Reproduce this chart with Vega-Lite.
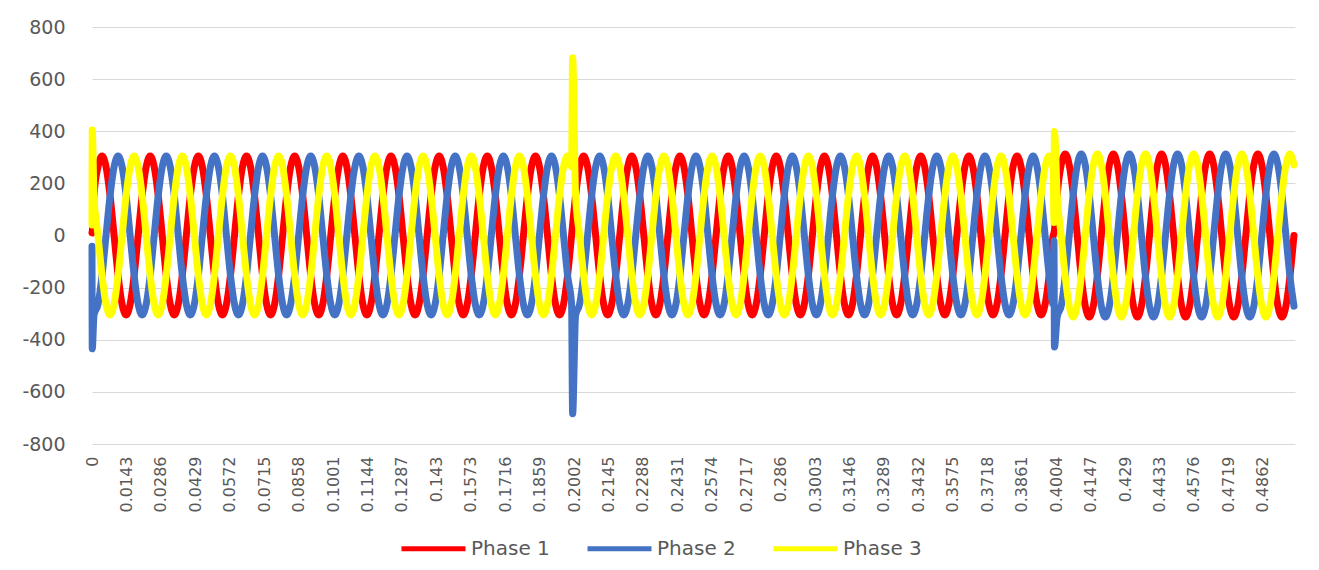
{
"$schema":"https://vega.github.io/schema/vega-lite/v6.json",
"autosize":{"type":"none"},
"width":1203,"height":417,
"padding":{"left":92,"top":27,"right":24,"bottom":126},
"background":"white",
"data":{"values":[
{"t":0,"p1":10,"p2":-41,"p3":40},
{"t":0.0001,"p1":15,"p2":-435,"p3":405},
{"t":0.00083,"p1":153,"p2":-305,"p3":153},{"t":0.0025,"p1":264,"p2":-264,"p3":0},{"t":0.00417,"p1":305,"p2":-153,"p3":-153},{"t":0.00583,"p1":264,"p2":0,"p3":-264},{"t":0.0075,"p1":153,"p2":153,"p3":-305},{"t":0.00917,"p1":0,"p2":264,"p3":-264},
{"t":0.01083,"p1":-153,"p2":305,"p3":-153},{"t":0.0125,"p1":-264,"p2":264,"p3":0},{"t":0.01417,"p1":-305,"p2":153,"p3":153},{"t":0.01583,"p1":-264,"p2":0,"p3":264},{"t":0.0175,"p1":-153,"p2":-153,"p3":305},{"t":0.01917,"p1":0,"p2":-264,"p3":264},
{"t":0.02083,"p1":153,"p2":-305,"p3":153},{"t":0.0225,"p1":264,"p2":-264,"p3":0},{"t":0.02417,"p1":305,"p2":-153,"p3":-153},{"t":0.02583,"p1":264,"p2":0,"p3":-264},{"t":0.0275,"p1":153,"p2":153,"p3":-305},{"t":0.02917,"p1":0,"p2":264,"p3":-264},
{"t":0.03083,"p1":-153,"p2":305,"p3":-153},{"t":0.0325,"p1":-264,"p2":264,"p3":0},{"t":0.03417,"p1":-305,"p2":153,"p3":153},{"t":0.03583,"p1":-264,"p2":0,"p3":264},{"t":0.0375,"p1":-153,"p2":-153,"p3":305},{"t":0.03917,"p1":0,"p2":-264,"p3":264},
{"t":0.04083,"p1":153,"p2":-305,"p3":153},{"t":0.0425,"p1":264,"p2":-264,"p3":0},{"t":0.04417,"p1":305,"p2":-153,"p3":-153},{"t":0.04583,"p1":264,"p2":0,"p3":-264},{"t":0.0475,"p1":153,"p2":153,"p3":-305},{"t":0.04917,"p1":0,"p2":264,"p3":-264},
{"t":0.05083,"p1":-153,"p2":305,"p3":-153},{"t":0.0525,"p1":-264,"p2":264,"p3":0},{"t":0.05417,"p1":-305,"p2":153,"p3":153},{"t":0.05583,"p1":-264,"p2":0,"p3":264},{"t":0.0575,"p1":-153,"p2":-153,"p3":305},{"t":0.05917,"p1":0,"p2":-264,"p3":264},
{"t":0.06083,"p1":153,"p2":-305,"p3":153},{"t":0.0625,"p1":264,"p2":-264,"p3":0},{"t":0.06417,"p1":305,"p2":-153,"p3":-153},{"t":0.06583,"p1":264,"p2":0,"p3":-264},{"t":0.0675,"p1":153,"p2":153,"p3":-305},{"t":0.06917,"p1":0,"p2":264,"p3":-264},
{"t":0.07083,"p1":-153,"p2":305,"p3":-153},{"t":0.0725,"p1":-264,"p2":264,"p3":0},{"t":0.07417,"p1":-305,"p2":153,"p3":153},{"t":0.07583,"p1":-264,"p2":0,"p3":264},{"t":0.0775,"p1":-153,"p2":-153,"p3":305},{"t":0.07917,"p1":0,"p2":-264,"p3":264},
{"t":0.08083,"p1":153,"p2":-305,"p3":153},{"t":0.0825,"p1":264,"p2":-264,"p3":0},{"t":0.08417,"p1":305,"p2":-153,"p3":-153},{"t":0.08583,"p1":264,"p2":0,"p3":-264},{"t":0.0875,"p1":153,"p2":153,"p3":-305},{"t":0.08917,"p1":0,"p2":264,"p3":-264},
{"t":0.09083,"p1":-153,"p2":305,"p3":-153},{"t":0.0925,"p1":-264,"p2":264,"p3":0},{"t":0.09417,"p1":-305,"p2":153,"p3":153},{"t":0.09583,"p1":-264,"p2":0,"p3":264},{"t":0.0975,"p1":-153,"p2":-153,"p3":305},{"t":0.09917,"p1":0,"p2":-264,"p3":264},
{"t":0.10083,"p1":153,"p2":-305,"p3":153},{"t":0.1025,"p1":264,"p2":-264,"p3":0},{"t":0.10417,"p1":305,"p2":-153,"p3":-153},{"t":0.10583,"p1":264,"p2":0,"p3":-264},{"t":0.1075,"p1":153,"p2":153,"p3":-305},{"t":0.10917,"p1":0,"p2":264,"p3":-264},
{"t":0.11083,"p1":-153,"p2":305,"p3":-153},{"t":0.1125,"p1":-264,"p2":264,"p3":0},{"t":0.11417,"p1":-305,"p2":153,"p3":153},{"t":0.11583,"p1":-264,"p2":0,"p3":264},{"t":0.1175,"p1":-153,"p2":-153,"p3":305},{"t":0.11917,"p1":0,"p2":-264,"p3":264},
{"t":0.12083,"p1":153,"p2":-305,"p3":153},{"t":0.1225,"p1":264,"p2":-264,"p3":0},{"t":0.12417,"p1":305,"p2":-153,"p3":-153},{"t":0.12583,"p1":264,"p2":0,"p3":-264},{"t":0.1275,"p1":153,"p2":153,"p3":-305},{"t":0.12917,"p1":0,"p2":264,"p3":-264},
{"t":0.13083,"p1":-153,"p2":305,"p3":-153},{"t":0.1325,"p1":-264,"p2":264,"p3":0},{"t":0.13417,"p1":-305,"p2":153,"p3":153},{"t":0.13583,"p1":-264,"p2":0,"p3":264},{"t":0.1375,"p1":-153,"p2":-153,"p3":305},{"t":0.13917,"p1":0,"p2":-264,"p3":264},
{"t":0.14083,"p1":153,"p2":-305,"p3":153},{"t":0.1425,"p1":264,"p2":-264,"p3":0},{"t":0.14417,"p1":305,"p2":-153,"p3":-153},{"t":0.14583,"p1":264,"p2":0,"p3":-264},{"t":0.1475,"p1":153,"p2":153,"p3":-305},{"t":0.14917,"p1":0,"p2":264,"p3":-264},
{"t":0.15083,"p1":-153,"p2":305,"p3":-153},{"t":0.1525,"p1":-264,"p2":264,"p3":0},{"t":0.15417,"p1":-305,"p2":153,"p3":153},{"t":0.15583,"p1":-264,"p2":0,"p3":264},{"t":0.1575,"p1":-153,"p2":-153,"p3":305},{"t":0.15917,"p1":0,"p2":-264,"p3":264},
{"t":0.16083,"p1":153,"p2":-305,"p3":153},{"t":0.1625,"p1":264,"p2":-264,"p3":0},{"t":0.16417,"p1":305,"p2":-153,"p3":-153},{"t":0.16583,"p1":264,"p2":0,"p3":-264},{"t":0.1675,"p1":153,"p2":153,"p3":-305},{"t":0.16917,"p1":0,"p2":264,"p3":-264},
{"t":0.17083,"p1":-153,"p2":305,"p3":-153},{"t":0.1725,"p1":-264,"p2":264,"p3":0},{"t":0.17417,"p1":-305,"p2":153,"p3":153},{"t":0.17583,"p1":-264,"p2":0,"p3":264},{"t":0.1775,"p1":-153,"p2":-153,"p3":305},{"t":0.17917,"p1":0,"p2":-264,"p3":264},
{"t":0.18083,"p1":153,"p2":-305,"p3":153},{"t":0.1825,"p1":264,"p2":-264,"p3":0},{"t":0.18417,"p1":305,"p2":-153,"p3":-153},{"t":0.18583,"p1":264,"p2":0,"p3":-264},{"t":0.1875,"p1":153,"p2":153,"p3":-305},{"t":0.18917,"p1":0,"p2":264,"p3":-264},
{"t":0.19083,"p1":-153,"p2":305,"p3":-153},{"t":0.1925,"p1":-264,"p2":264,"p3":0},{"t":0.19417,"p1":-305,"p2":153,"p3":153},{"t":0.19583,"p1":-264,"p2":0,"p3":264},{"t":0.1975,"p1":-153,"p2":-153,"p3":305},{"t":0.19917,"p1":0,"p2":-264,"p3":264},
{"t":0.1996,"p1":41,"p2":-684,"p3":682},
{"t":0.20083,"p1":153,"p2":-305,"p3":153},{"t":0.2025,"p1":264,"p2":-264,"p3":0},{"t":0.20417,"p1":305,"p2":-153,"p3":-153},{"t":0.20583,"p1":264,"p2":0,"p3":-264},{"t":0.2075,"p1":153,"p2":153,"p3":-305},{"t":0.20917,"p1":0,"p2":264,"p3":-264},
{"t":0.21083,"p1":-153,"p2":305,"p3":-153},{"t":0.2125,"p1":-264,"p2":264,"p3":0},{"t":0.21417,"p1":-305,"p2":153,"p3":153},{"t":0.21583,"p1":-264,"p2":0,"p3":264},{"t":0.2175,"p1":-153,"p2":-153,"p3":305},{"t":0.21917,"p1":0,"p2":-264,"p3":264},
{"t":0.22083,"p1":153,"p2":-305,"p3":153},{"t":0.2225,"p1":264,"p2":-264,"p3":0},{"t":0.22417,"p1":305,"p2":-153,"p3":-153},{"t":0.22583,"p1":264,"p2":0,"p3":-264},{"t":0.2275,"p1":153,"p2":153,"p3":-305},{"t":0.22917,"p1":0,"p2":264,"p3":-264},
{"t":0.23083,"p1":-153,"p2":305,"p3":-153},{"t":0.2325,"p1":-264,"p2":264,"p3":0},{"t":0.23417,"p1":-305,"p2":153,"p3":153},{"t":0.23583,"p1":-264,"p2":0,"p3":264},{"t":0.2375,"p1":-153,"p2":-153,"p3":305},{"t":0.23917,"p1":0,"p2":-264,"p3":264},
{"t":0.24083,"p1":153,"p2":-305,"p3":153},{"t":0.2425,"p1":264,"p2":-264,"p3":0},{"t":0.24417,"p1":305,"p2":-153,"p3":-153},{"t":0.24583,"p1":264,"p2":0,"p3":-264},{"t":0.2475,"p1":153,"p2":153,"p3":-305},{"t":0.24917,"p1":0,"p2":264,"p3":-264},
{"t":0.25083,"p1":-153,"p2":305,"p3":-153},{"t":0.2525,"p1":-264,"p2":264,"p3":0},{"t":0.25417,"p1":-305,"p2":153,"p3":153},{"t":0.25583,"p1":-264,"p2":0,"p3":264},{"t":0.2575,"p1":-153,"p2":-153,"p3":305},{"t":0.25917,"p1":0,"p2":-264,"p3":264},
{"t":0.26083,"p1":153,"p2":-305,"p3":153},{"t":0.2625,"p1":264,"p2":-264,"p3":0},{"t":0.26417,"p1":305,"p2":-153,"p3":-153},{"t":0.26583,"p1":264,"p2":0,"p3":-264},{"t":0.2675,"p1":153,"p2":153,"p3":-305},{"t":0.26917,"p1":0,"p2":264,"p3":-264},
{"t":0.27083,"p1":-153,"p2":305,"p3":-153},{"t":0.2725,"p1":-264,"p2":264,"p3":0},{"t":0.27417,"p1":-305,"p2":153,"p3":153},{"t":0.27583,"p1":-264,"p2":0,"p3":264},{"t":0.2775,"p1":-153,"p2":-153,"p3":305},{"t":0.27917,"p1":0,"p2":-264,"p3":264},
{"t":0.28083,"p1":153,"p2":-305,"p3":153},{"t":0.2825,"p1":264,"p2":-264,"p3":0},{"t":0.28417,"p1":305,"p2":-153,"p3":-153},{"t":0.28583,"p1":264,"p2":0,"p3":-264},{"t":0.2875,"p1":153,"p2":153,"p3":-305},{"t":0.28917,"p1":0,"p2":264,"p3":-264},
{"t":0.29083,"p1":-153,"p2":305,"p3":-153},{"t":0.2925,"p1":-264,"p2":264,"p3":0},{"t":0.29417,"p1":-305,"p2":153,"p3":153},{"t":0.29583,"p1":-264,"p2":0,"p3":264},{"t":0.2975,"p1":-153,"p2":-153,"p3":305},{"t":0.29917,"p1":0,"p2":-264,"p3":264},
{"t":0.30083,"p1":153,"p2":-305,"p3":153},{"t":0.3025,"p1":264,"p2":-264,"p3":0},{"t":0.30417,"p1":305,"p2":-153,"p3":-153},{"t":0.30583,"p1":264,"p2":0,"p3":-264},{"t":0.3075,"p1":153,"p2":153,"p3":-305},{"t":0.30917,"p1":0,"p2":264,"p3":-264},
{"t":0.31083,"p1":-153,"p2":305,"p3":-153},{"t":0.3125,"p1":-264,"p2":264,"p3":0},{"t":0.31417,"p1":-305,"p2":153,"p3":153},{"t":0.31583,"p1":-264,"p2":0,"p3":264},{"t":0.3175,"p1":-153,"p2":-153,"p3":305},{"t":0.31917,"p1":0,"p2":-264,"p3":264},
{"t":0.32083,"p1":153,"p2":-305,"p3":153},{"t":0.3225,"p1":264,"p2":-264,"p3":0},{"t":0.32417,"p1":305,"p2":-153,"p3":-153},{"t":0.32583,"p1":264,"p2":0,"p3":-264},{"t":0.3275,"p1":153,"p2":153,"p3":-305},{"t":0.32917,"p1":0,"p2":264,"p3":-264},
{"t":0.33083,"p1":-153,"p2":305,"p3":-153},{"t":0.3325,"p1":-264,"p2":264,"p3":0},{"t":0.33417,"p1":-305,"p2":153,"p3":153},{"t":0.33583,"p1":-264,"p2":0,"p3":264},{"t":0.3375,"p1":-153,"p2":-153,"p3":305},{"t":0.33917,"p1":0,"p2":-264,"p3":264},
{"t":0.34083,"p1":153,"p2":-305,"p3":153},{"t":0.3425,"p1":264,"p2":-264,"p3":0},{"t":0.34417,"p1":305,"p2":-153,"p3":-153},{"t":0.34583,"p1":264,"p2":0,"p3":-264},{"t":0.3475,"p1":153,"p2":153,"p3":-305},{"t":0.34917,"p1":0,"p2":264,"p3":-264},
{"t":0.35083,"p1":-153,"p2":305,"p3":-153},{"t":0.3525,"p1":-264,"p2":264,"p3":0},{"t":0.35417,"p1":-305,"p2":153,"p3":153},{"t":0.35583,"p1":-264,"p2":0,"p3":264},{"t":0.3575,"p1":-153,"p2":-153,"p3":305},{"t":0.35917,"p1":0,"p2":-264,"p3":264},
{"t":0.36083,"p1":153,"p2":-305,"p3":153},{"t":0.3625,"p1":264,"p2":-264,"p3":0},{"t":0.36417,"p1":305,"p2":-153,"p3":-153},{"t":0.36583,"p1":264,"p2":0,"p3":-264},{"t":0.3675,"p1":153,"p2":153,"p3":-305},{"t":0.36917,"p1":0,"p2":264,"p3":-264},
{"t":0.37083,"p1":-153,"p2":305,"p3":-153},{"t":0.3725,"p1":-264,"p2":264,"p3":0},{"t":0.37417,"p1":-305,"p2":153,"p3":153},{"t":0.37583,"p1":-264,"p2":0,"p3":264},{"t":0.3775,"p1":-153,"p2":-153,"p3":305},{"t":0.37917,"p1":0,"p2":-264,"p3":264},
{"t":0.38083,"p1":153,"p2":-305,"p3":153},{"t":0.3825,"p1":264,"p2":-264,"p3":0},{"t":0.38417,"p1":305,"p2":-153,"p3":-153},{"t":0.38583,"p1":264,"p2":0,"p3":-264},{"t":0.3875,"p1":153,"p2":153,"p3":-305},{"t":0.38917,"p1":0,"p2":264,"p3":-264},
{"t":0.39083,"p1":-153,"p2":305,"p3":-153},{"t":0.3925,"p1":-264,"p2":264,"p3":0},{"t":0.39417,"p1":-305,"p2":153,"p3":153},{"t":0.39583,"p1":-264,"p2":0,"p3":264},{"t":0.3975,"p1":-153,"p2":-153,"p3":305},{"t":0.39917,"p1":0,"p2":-264,"p3":264},
{"t":0.3995,"p1":10,"p2":-20,"p3":50},
{"t":0.3997,"p1":20,"p2":-428,"p3":399},
{"t":0.40083,"p1":157,"p2":-313,"p3":157},{"t":0.4025,"p1":271,"p2":-271,"p3":0},{"t":0.40417,"p1":313,"p2":-157,"p3":-157},{"t":0.40583,"p1":271,"p2":0,"p3":-271},{"t":0.4075,"p1":157,"p2":157,"p3":-313},{"t":0.40917,"p1":0,"p2":271,"p3":-271},
{"t":0.41083,"p1":-157,"p2":313,"p3":-157},{"t":0.4125,"p1":-271,"p2":271,"p3":0},{"t":0.41417,"p1":-313,"p2":157,"p3":157},{"t":0.41583,"p1":-271,"p2":0,"p3":271},{"t":0.4175,"p1":-157,"p2":-157,"p3":313},{"t":0.41917,"p1":0,"p2":-271,"p3":271},
{"t":0.42083,"p1":157,"p2":-313,"p3":157},{"t":0.4225,"p1":271,"p2":-271,"p3":0},{"t":0.42417,"p1":313,"p2":-157,"p3":-157},{"t":0.42583,"p1":271,"p2":0,"p3":-271},{"t":0.4275,"p1":157,"p2":157,"p3":-313},{"t":0.42917,"p1":0,"p2":271,"p3":-271},
{"t":0.43083,"p1":-157,"p2":313,"p3":-157},{"t":0.4325,"p1":-271,"p2":271,"p3":0},{"t":0.43417,"p1":-313,"p2":157,"p3":157},{"t":0.43583,"p1":-271,"p2":0,"p3":271},{"t":0.4375,"p1":-157,"p2":-157,"p3":313},{"t":0.43917,"p1":0,"p2":-271,"p3":271},
{"t":0.44083,"p1":157,"p2":-313,"p3":157},{"t":0.4425,"p1":271,"p2":-271,"p3":0},{"t":0.44417,"p1":313,"p2":-157,"p3":-157},{"t":0.44583,"p1":271,"p2":0,"p3":-271},{"t":0.4475,"p1":157,"p2":157,"p3":-313},{"t":0.44917,"p1":0,"p2":271,"p3":-271},
{"t":0.45083,"p1":-157,"p2":313,"p3":-157},{"t":0.4525,"p1":-271,"p2":271,"p3":0},{"t":0.45417,"p1":-313,"p2":157,"p3":157},{"t":0.45583,"p1":-271,"p2":0,"p3":271},{"t":0.4575,"p1":-157,"p2":-157,"p3":313},{"t":0.45917,"p1":0,"p2":-271,"p3":271},
{"t":0.46083,"p1":157,"p2":-313,"p3":157},{"t":0.4625,"p1":271,"p2":-271,"p3":0},{"t":0.46417,"p1":313,"p2":-157,"p3":-157},{"t":0.46583,"p1":271,"p2":0,"p3":-271},{"t":0.4675,"p1":157,"p2":157,"p3":-313},{"t":0.46917,"p1":0,"p2":271,"p3":-271},
{"t":0.47083,"p1":-157,"p2":313,"p3":-157},{"t":0.4725,"p1":-271,"p2":271,"p3":0},{"t":0.47417,"p1":-313,"p2":157,"p3":157},{"t":0.47583,"p1":-271,"p2":0,"p3":271},{"t":0.4775,"p1":-157,"p2":-157,"p3":313},{"t":0.47917,"p1":0,"p2":-271,"p3":271},
{"t":0.48083,"p1":157,"p2":-313,"p3":157},{"t":0.4825,"p1":271,"p2":-271,"p3":0},{"t":0.48417,"p1":313,"p2":-157,"p3":-157},{"t":0.48583,"p1":271,"p2":0,"p3":-271},{"t":0.4875,"p1":157,"p2":157,"p3":-313},{"t":0.48917,"p1":0,"p2":271,"p3":-271},
{"t":0.49083,"p1":-157,"p2":313,"p3":-157},{"t":0.4925,"p1":-271,"p2":271,"p3":0},{"t":0.49417,"p1":-313,"p2":157,"p3":157},{"t":0.49583,"p1":-271,"p2":0,"p3":271},{"t":0.4975,"p1":-157,"p2":-157,"p3":313},{"t":0.49917,"p1":0,"p2":-271,"p3":271}
]},
"encoding":{
 "x":{"field":"t","type":"quantitative","title":null,
  "scale":{"domain":[0,0.4996],"nice":false,"zero":false},
  "axis":{"values":[0,0.0143,0.0286,0.0429,0.0572,0.0715,0.0858,0.1001,0.1144,0.1287,0.143,0.1573,0.1716,0.1859,0.2002,0.2145,0.2288,0.2431,0.2574,0.2717,0.286,0.3003,0.3146,0.3289,0.3432,0.3575,0.3718,0.3861,0.4004,0.4147,0.429,0.4433,0.4576,0.4719,0.4862],
   "labelExpr":"'' + datum.value","labelAngle":270,"labelFontSize":16,"labelPadding":12,"grid":false,"labelFlush":false,"labelOverlap":false,"domain":false,"ticks":false}}
},
"layer":[
 {"mark":{"type":"line","interpolate":"monotone","strokeWidth":7,"strokeCap":"round","strokeJoin":"round"},
  "encoding":{
   "y":{"field":"p1","type":"quantitative","title":null,"scale":{"domain":[-800,800],"nice":false},
    "axis":{"values":[-800,-600,-400,-200,0,200,400,600,800],"labelExpr":"'' + datum.value","labelFontSize":19,"labelPadding":27,"grid":true,"gridColor":"#d9d9d9","gridWidth":1,"domain":false,"ticks":false}},
   "color":{"datum":"Phase 1","scale":{"domain":["Phase 1","Phase 2","Phase 3"],"range":["#FF0000","#4472C4","#FFFF00"]},
    "legend":{"orient":"none","legendX":307,"legendY":487,"direction":"horizontal","title":null,"symbolType":"stroke","symbolSize":4096,"symbolStrokeWidth":5,"labelFontSize":20,"labelColor":"#595959","labelFont":"DejaVu Sans","columnPadding":27,"labelOffset":3,"padding":0,"labelLimit":300}}}},
 {"mark":{"type":"line","interpolate":"monotone","strokeWidth":7,"strokeCap":"round","strokeJoin":"round"},
  "encoding":{"y":{"field":"p2","type":"quantitative","title":null},"color":{"datum":"Phase 2"}}},
 {"mark":{"type":"line","interpolate":"monotone","strokeWidth":7,"strokeCap":"round","strokeJoin":"round"},
  "encoding":{"y":{"field":"p3","type":"quantitative","title":null},"color":{"datum":"Phase 3"}}}
],
"config":{"view":{"stroke":null},"font":"DejaVu Sans","axis":{"labelColor":"#595959","labelFont":"DejaVu Sans"}}
}
